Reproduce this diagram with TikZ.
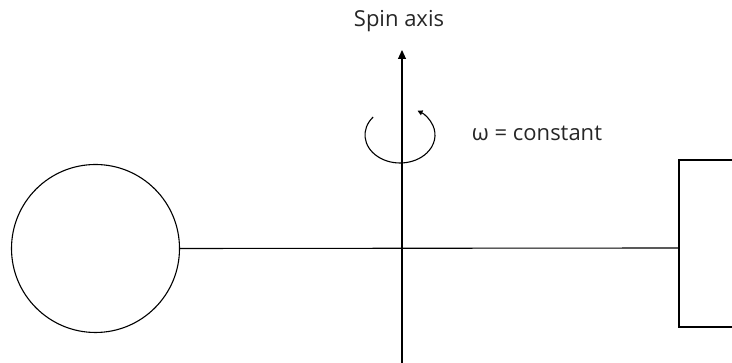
\documentclass[tikz,border=0pt]{standalone}
\usepackage{fontspec}
\setmainfont{Open Sans}
\usetikzlibrary{arrows.meta}

\begin{document}
\begin{tikzpicture}[x=1pt, y=1pt, line width=1.1pt,
    lbl/.style={inner sep=0pt, font=\fontsize{22}{26}\selectfont, text=black!85}]
    \useasboundingbox (0,0) rectangle (732,363);
    % Spin axis and rotation
        \coordinate (axisbot) at (402,0);
        \coordinate (axistop) at (402,313);
        \coordinate (hub) at (402,115);
        \draw[-{Triangle[length=9pt,width=8pt]}] (axisbot) -- (axistop);
        \draw[-{Triangle[length=5pt,width=5pt]}] (373.2,246) arc (140:420:35 and 28);
    % Below nodes are the labels.
        \node[lbl] (spin) at (399,342) {Spin axis};
        \node[lbl] (omega) at (537,230) {ω = constant};
    % Mass, rod and block
        \node[draw, circle, minimum size=168pt, inner sep=0pt] (mass) at (95.5,114.5) {};
        \coordinate (block) at (679,115);
        \draw (mass.east) -- (block);
        \draw (733,203) -- (679,203) -- (679,36) -- (733,36);
\end{tikzpicture}
\end{document}
